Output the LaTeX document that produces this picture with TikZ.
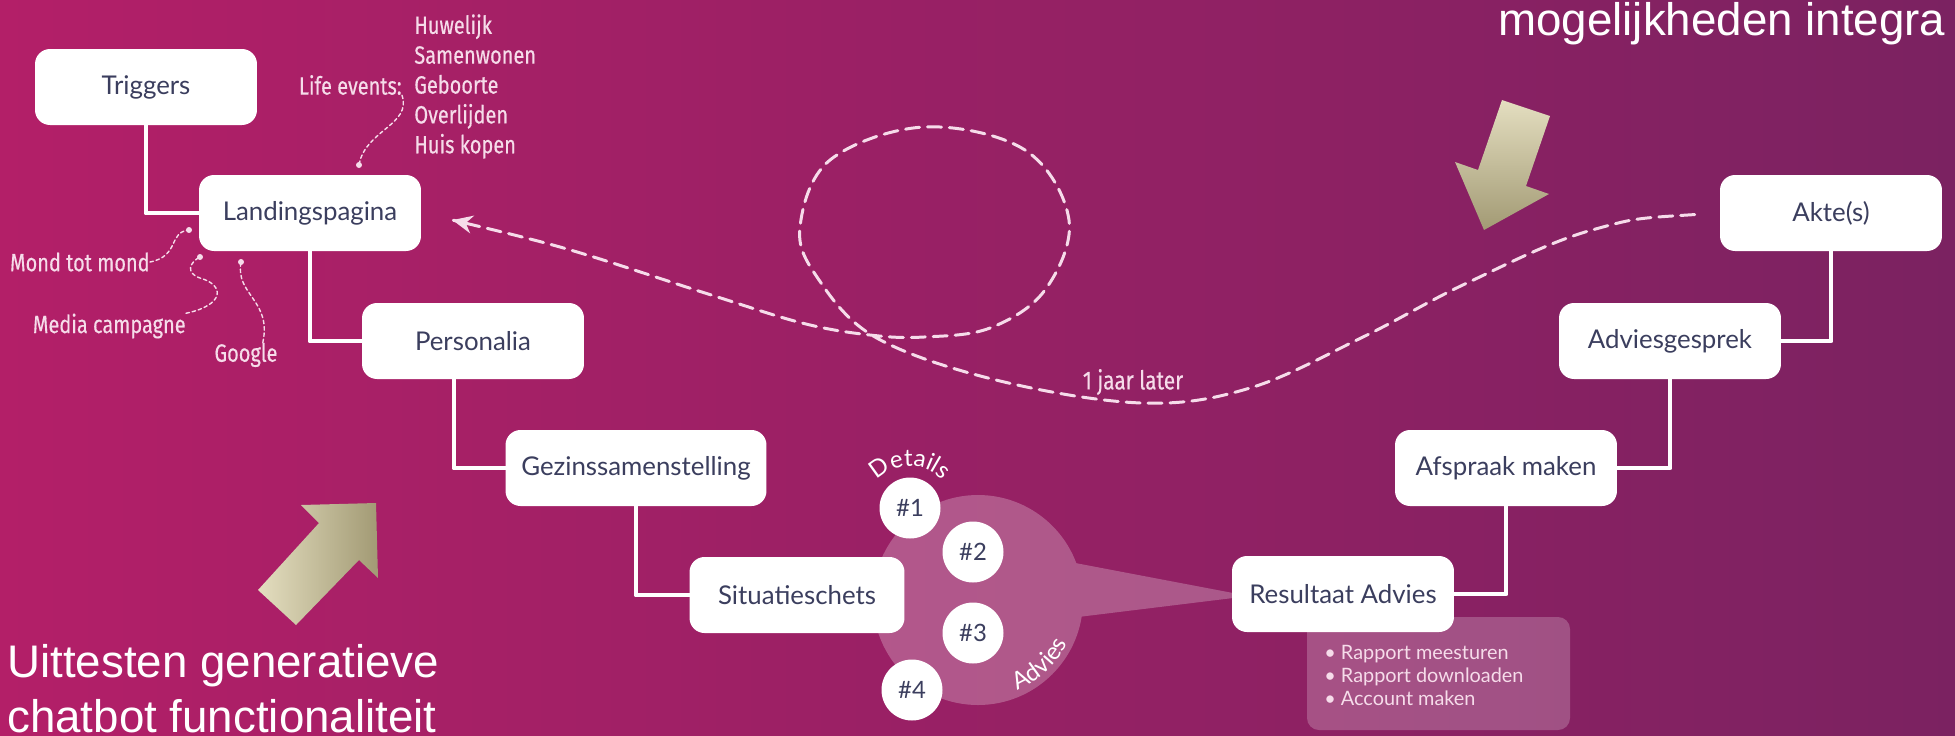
\documentclass[tikz,border=0pt]{standalone}
\usepackage{fontspec}
\setmainfont{Lato}
\newfontfamily\condfont[FakeStretch=0.8, FakeBold=0.4]{Fira Sans}
\newfontfamily\arialfont{Liberation Sans}
\usetikzlibrary{arrows.meta,decorations.text}
\definecolor{bgl}{HTML}{B31F68}
\definecolor{bgm}{HTML}{8C2062}
\definecolor{bgr}{HTML}{7B2261}
\definecolor{ink}{HTML}{3B3E5E}
\definecolor{roze}{HTML}{F6DCEA}
\definecolor{goudl}{HTML}{E4DEC0}
\definecolor{goudd}{HTML}{A29A74}
\begin{document}
\begin{tikzpicture}[x=.02cm, y=-.02cm, line join=round, line cap=round,
    stap/.style={fill=white, rounded corners=.3cm, minimum width=4.44cm, minimum height=1.52cm,
      inner sep=0pt, text=ink, font=\fontsize{14.7}{17}\selectfont},
    lijn/.style={white, line width=2.8pt},
    noot/.style={text=roze, inner sep=0pt, font=\condfont\fontsize{14.2}{17}\selectfont},
    krul/.style={roze, line width=.8pt, dash pattern=on 2pt off 1.6pt},
    nr/.style={circle, fill=white, minimum size=1.22cm, inner sep=0pt, text=ink,
      font=\fontsize{13.6}{16}\selectfont},
    boog/.style={decorate, decoration={text along path, text align=center, text color=white,
      text={|\fontsize{13.6}{16}\selectfont|#1}}},
    groot/.style={text=white, inner sep=0pt, anchor=base west, font=\arialfont\fontsize{26}{31}\selectfont}]
  \useasboundingbox (0,0) rectangle (1955,735);
  \shade[left color=bgl, middle color=bgm, right color=bgr] (0,0) rectangle (1955,735);

  \fill[white, fill opacity=.25] (978,600) circle[radius=105] (1070,562) -- (1233,593) -- (1233,598) -- (1070,618) -- cycle;
  \fill[white, fill opacity=.22, rounded corners=.24cm] (1307,617) rectangle (1570,730);

  \node[stap] (trig) at (146,87) {Triggers};
  \node[stap] (land) at (310,213) {Landingspagina};
  \node[stap] (pers) at (473,341) {Personalia};
  \node[stap, minimum width=5.22cm] (gez) at (636,468) {Gezinssamenstelling};
  \node[stap, minimum width=4.3cm] (sit) at (797,595) {Situatieschets};
  \node[stap] (res) at (1343,594) {Resultaat Advies};
  \node[stap] (afs) at (1506,468) {Afspraak maken};
  \node[stap] (adv) at (1670,341) {Adviesgesprek};
  \node[stap] (akte) at (1831,213) {Akte(s)};

  \draw[lijn] (trig.south) |- (land.west);
  \draw[lijn] (land.south) |- (pers.west);
  \draw[lijn] ([xshift=-.38cm]pers.south) |- (gez.west);
  \draw[lijn] (gez.south) |- (sit.west);
  \draw[lijn] (res.east) -| (afs.south);
  \draw[lijn] (afs.east) -| (adv.south);
  \draw[lijn] (adv.east) -| (akte.south);

  \foreach \n/\x/\y in {1/910/508, 2/973/552, 3/973/633, 4/912/690}
    \node[nr] (c\n) at (\x,\y) {\#\n};
  \path[boog=Details] (872,488) .. controls (889,459) and (931,459) .. (948,488);
  \path[boog=Advies] (995,697) .. controls (1035,690) and (1067,660) .. (1075,621);

  \node[anchor=north west, align=left, inner sep=0pt, text=roze, font=\fontsize{11.3}{13}\selectfont] (rap)
    at (1324,645) {\textbullet\ Rapport meesturen\\\textbullet\ Rapport downloaden\\\textbullet\ Account maken};

  \node[noot, anchor=east] (life) at (402,85) {Life events:};
  \node[noot, anchor=north west, align=left] (events) at (414,14) {Huwelijk\\Samenwonen\\Geboorte\\Overlijden\\Huis kopen};
  \node[noot, anchor=east] (mond) at (150,262) {Mond tot mond};
  \node[noot, anchor=east] (media) at (186,326) {Media campagne};
  \node[noot] (goog) at (246,355) {Google};
  \coordinate (d1) at (359,165);
  \coordinate (d2) at (189,230);
  \coordinate (d3) at (200,257);
  \coordinate (d4) at (241,262);
  \draw[krul] (life.south east) .. controls (412,125) and (365,130) .. (d1);
  \draw[krul] (mond.east) .. controls (180,256) and (168,232) .. (d2);
  \draw[krul] (media.north east) .. controls (225,305) and (225,285) .. (200,278) .. controls (185,273) and (190,262) .. (d3);
  \draw[krul] ([xshift=-.3cm]goog.north east) .. controls (272,300) and (235,295) .. (d4);
  \foreach \d in {d1,d2,d3,d4} \fill[roze] (\d) circle[radius=3];

  \node[noot, font=\condfont\fontsize{14.8}{17}\selectfont] (later) at (1133,382) {1 jaar later};
  \draw[roze, line width=1.7pt, dash pattern=on 8pt off 4.5pt, -{Stealth[length=.4cm, width=.36cm]},
      shorten <=.5cm, shorten >=.64cm]
    plot[smooth, tension=.6] coordinates {(akte.west) (1592,230) (1467,283) (1363,337) (1250,388) (1142,403)
      (996,380) (875,337) (817,277) (800,227) (830,160) (924,127) (1025,150) (1069,220) (1045,290)
      (990,328) (924,337) (870,335) (802,323) (705,293) (560,247) (land.east)};

  \shade[left color=goudl, right color=goudd] (376,503) -- (301,505) -- (319,523) -- (258,590) -- (296,625) -- (359,560) -- (378,578) -- cycle;
  \shade[top color=goudl, bottom color=goudd] (1502,100) -- (1550,116) -- (1526,186) -- (1549,194) -- (1484,230) -- (1455,162) -- (1478,170) -- cycle;

  \node[groot] (uit1) at (7,677) {Uittesten generatieve};
  \node[groot] (uit2) at (7,732) {chatbot functionaliteit};
  \node[groot] (mog) at (1498,35) {mogelijkheden integra};
\end{tikzpicture}
\end{document}
